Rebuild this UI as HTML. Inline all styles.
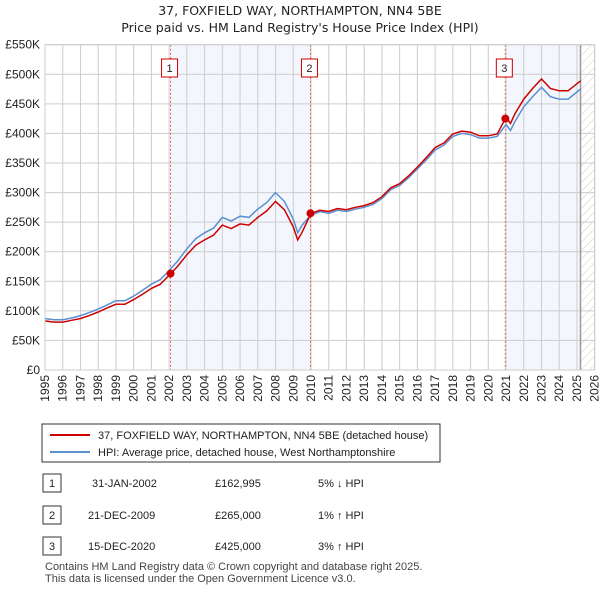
<!DOCTYPE html>
<html><head><meta charset="utf-8"><style>
body{margin:0;background:#fff;font-family:"Liberation Sans","DejaVu Sans",sans-serif;}
svg text{font-family:"Liberation Sans","DejaVu Sans",sans-serif;}
svg text.ttl{font-family:"DejaVu Sans","Liberation Sans",sans-serif;}
</style></head><body>
<svg id="c" width="600" height="590" xmlns="http://www.w3.org/2000/svg">
<defs><pattern id="hatch" width="6" height="6" patternUnits="userSpaceOnUse" patternTransform="rotate(45)"><line x1="0" y1="0" x2="0" y2="6" stroke="#ccc" stroke-width="1"/></pattern></defs>
<text class="ttl" x="300" y="15" text-anchor="middle" font-size="12.5" fill="#222">37, FOXFIELD WAY, NORTHAMPTON, NN4 5BE</text>
<text class="ttl" x="300" y="32" text-anchor="middle" font-size="12.5" fill="#222">Price paid vs. HM Land Registry's House Price Index (HPI)</text>
<g id="plot"></g>
<rect x="42" y="424" width="398" height="38" fill="#fff" stroke="#333"/>
<line x1="50" y1="435" x2="90" y2="435" stroke="#cc0000" stroke-width="2"/>
<text x="98" y="439" font-size="11" fill="#222">37, FOXFIELD WAY, NORTHAMPTON, NN4 5BE (detached house)</text>
<line x1="50" y1="452" x2="90" y2="452" stroke="#5b8fd0" stroke-width="2"/>
<text x="98" y="456" font-size="11" fill="#222">HPI: Average price, detached house, West Northamptonshire</text>
<g font-size="11" fill="#222">
<rect x="43" y="474" width="18" height="18" fill="#fff" stroke="#333"/><text x="52" y="487" text-anchor="middle">1</text>
<text x="92" y="487">31-JAN-2002</text><text x="215" y="487">£162,995</text><text x="318" y="487">5% ↓ HPI</text>
<rect x="43" y="506" width="18" height="18" fill="#fff" stroke="#333"/><text x="52" y="519" text-anchor="middle">2</text>
<text x="88" y="519">21-DEC-2009</text><text x="215" y="519">£265,000</text><text x="318" y="519">1% ↑ HPI</text>
<rect x="43" y="537" width="18" height="18" fill="#fff" stroke="#333"/><text x="52" y="550" text-anchor="middle">3</text>
<text x="88" y="550">15-DEC-2020</text><text x="215" y="550">£425,000</text><text x="318" y="550">3% ↑ HPI</text>
<text x="45" y="570" fill="#444">Contains HM Land Registry data © Crown copyright and database right 2025.</text>
<text x="45" y="582" fill="#444">This data is licensed under the Open Government Licence v3.0.</text>
</g>
</svg>
<script>
const years=[1995,1995.5,1996,1996.5,1997,1997.5,1998,1998.5,1999,1999.5,2000,2000.5,2001,2001.5,2002,2002.5,2003,2003.5,2004,2004.5,2005,2005.5,2006,2006.5,2007,2007.5,2008,2008.5,2009,2009.25,2009.5,2010,2010.5,2011,2011.5,2012,2012.5,2013,2013.5,2014,2014.5,2015,2015.5,2016,2016.5,2017,2017.5,2018,2018.5,2019,2019.5,2020,2020.5,2021,2021.25,2021.5,2022,2022.5,2023,2023.5,2024,2024.5,2025,2025.2];
const hpi=[87,85,85,88,92,97,103,110,117,117,125,135,145,153,168,185,205,222,232,240,258,252,260,258,272,283,300,285,255,232,245,262,268,265,270,268,272,275,280,290,305,312,325,340,355,372,380,395,400,398,392,392,395,415,405,420,445,462,478,462,458,458,470,475];
const price=[83,81,81,84,87,92,98,105,111,111,119,128,138,145,160,176,195,211,220,228,245,239,247,245,258,269,285,271,242,220,233,265,270,268,273,271,275,278,283,293,308,315,328,343,359,376,384,399,404,402,396,396,399,427,417,433,458,476,492,476,472,472,484,489];
const saleYears=[2002.08,2009.97,2020.96];
const salePrices=[162995,265000,425000];
const saleLabels=["1","2","3"];
const yTicks=[0,50,100,150,200,250,300,350,400,450,500,550];
const yTickLabels=["£0","£50K","£100K","£150K","£200K","£250K","£300K","£350K","£400K","£450K","£500K","£550K"];
const xTicks=[1995,1996,1997,1998,1999,2000,2001,2002,2003,2004,2005,2006,2007,2008,2009,2010,2011,2012,2013,2014,2015,2016,2017,2018,2019,2020,2021,2022,2023,2024,2025,2026];
const dataEnd=2025.2;
const NS="http://www.w3.org/2000/svg";
const X0=45,X1=594.7,Y0=370,Y1=44.7;
const xs=y=>X0+(y-1995)/(2026-1995)*(X1-X0);
const ys=v=>Y0-v/550*(Y0-Y1);
const g=document.getElementById('plot');
function mk(t,a){const e=document.createElementNS(NS,t);for(const k in a)e.setAttribute(k,a[k]);g.appendChild(e);return e;}
let e;
e=mk('rect',{x:xs(saleYears[0]),y:Y1,width:xs(saleYears[1])-xs(saleYears[0]),height:Y0-Y1,fill:'#eef3fc',opacity:0.7});


e=mk('rect',{x:xs(saleYears[2]),y:Y1,width:xs(dataEnd)-xs(saleYears[2]),height:Y0-Y1,fill:'#eef3fc',opacity:0.7});


e=mk('rect',{x:xs(dataEnd),y:Y1,width:X1-xs(dataEnd),height:Y0-Y1,fill:'url(#hatch)'});


yTicks.forEach((t,i)=>{
 e=mk('line',{x1:X0,x2:X1,y1:ys(t),y2:ys(t),stroke:'#ccc'});
 
 
 e=mk('text',{x:40,y:ys(t)+4,'text-anchor':'end','font-size':12,fill:'#222'});e.textContent=yTickLabels[i];
 
 
});
xTicks.forEach(t=>{
 e=mk('line',{x1:xs(t),x2:xs(t),y1:Y1,y2:Y0,stroke:'#ccc'});
 
 
 e=mk('text',{x:0,y:0,'text-anchor':'end','font-size':12,fill:'#222',transform:`translate(${xs(t)+4},375) rotate(-90)`});e.textContent=t;
 
 
});
e=mk('line',{x1:xs(dataEnd),x2:xs(dataEnd),y1:Y1,y2:Y0,stroke:'#999','stroke-width':1.5});


saleYears.forEach((s,i)=>{
 e=mk('line',{x1:xs(s),x2:xs(s),y1:Y1,y2:Y0,stroke:'#e06060','stroke-dasharray':'2,2'});
 
 
});
const pts=a=>a.map((v,i)=>xs(years[i]).toFixed(1)+','+ys(v).toFixed(1)).join(' ');
e=mk('polyline',{points:pts(hpi),fill:'none',stroke:'#5b8fd0','stroke-width':1.5});


e=mk('polyline',{points:pts(price),fill:'none',stroke:'#cc0000','stroke-width':1.5});


saleYears.forEach((s,i)=>{
 e=mk('circle',{cx:xs(s),cy:ys(salePrices[i]/1000),r:4,fill:'#cc0000'});
 
 
 e=mk('rect',{x:xs(s)-9,y:59,width:16,height:18,fill:'#fff',stroke:'#cc0000'});
 
 
 e=mk('text',{x:xs(s)-1,y:72,'text-anchor':'middle','font-size':11,fill:'#222'});e.textContent=saleLabels[i];
 
 
});
e=mk('rect',{x:X0,y:Y1,width:X1-X0,height:Y0-Y1,fill:'none',stroke:'#ccc'});


</script>
</body></html>
